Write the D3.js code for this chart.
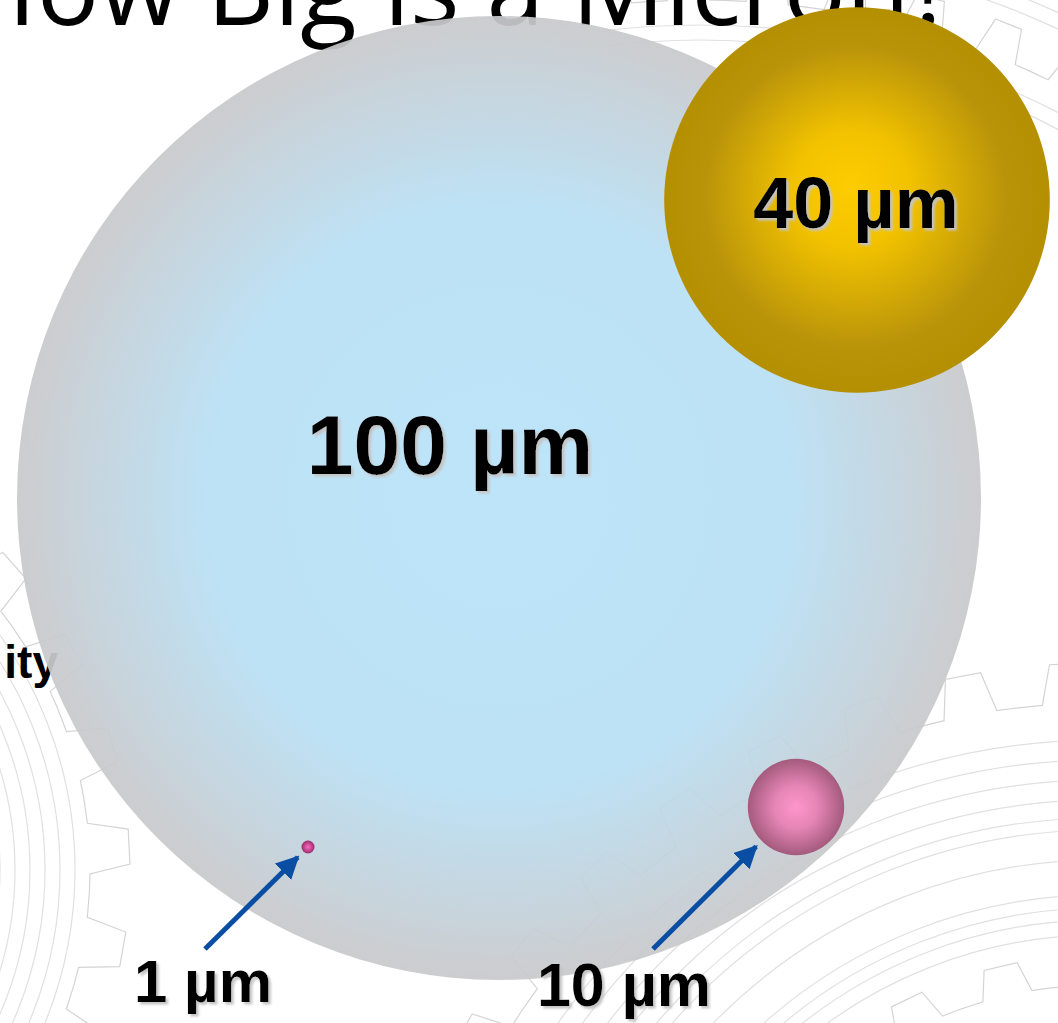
<!DOCTYPE html>
<html>
<head>
<meta charset="utf-8">
<script src="https://cdn.jsdelivr.net/npm/d3@7"></script>
<style>
  html, body { margin: 0; padding: 0; background: #ffffff; overflow: hidden; }
  svg { display: block; }
</style>
</head>
<body>
<svg id="chart" width="1058" height="1023"></svg>
<script>
// ---------------- DATA ----------------
const titleText = "How Big is a Micron?";
const sideText = "ity";
const objects = ["human hair", "dust particle", "cell", "bacterium"];
const sizesMicron = [100, 40, 10, 1];
const sizeLabels = ["100 µm", "40 µm", "10 µm", "1 µm"];

// ---------------- LAYOUT ----------------
const W = 1058, H = 1023;
const layout = {
  "human hair":    { cx: 499, cy: 498, lx: 450, ly: 474, fs: 84 },
  "dust particle": { cx: 857, cy: 200, lx: 856, ly: 228, fs: 72 },
  "cell":          { cx: 796, cy: 807, lx: 624, ly: 1006, fs: 61, ax: 653, ay: 949 },
  "bacterium":     { cx: 308, cy: 847, lx: 203, ly: 1002, fs: 60, ax: 205, ay: 949 }
};
const fills = {
  "human hair":    [["0%", "#b8e2f8"], ["60%", "#b8e0f5"], ["100%", "#c9c9cb"]],
  "dust particle": [["0%", "#fdcc00"], ["30%", "#f2c200"], ["78%", "#b9940a"], ["100%", "#b48f00"]],
  "cell":          [["0%", "#ff96cc"], ["45%", "#e585b5"], ["100%", "#a45a7d"]],
  "bacterium":     [["0%", "#ff66c4"], ["100%", "#9a2d6a"]]
};

const svg = d3.select("#chart");
const defs = svg.append("defs");

// radius scale (diameter in µm -> pixels)
const r = d3.scaleLinear().domain([0, 100]).range([0, 482]);

// ---------------- BACKGROUND GEARS ----------------
function gearPath(cx, cy, rOut, rIn, n, phase) {
  const pts = [];
  const step = 2 * Math.PI / n;
  for (let i = 0; i < n; i++) {
    const a = phase + i * step;
    [[rIn, 0], [rIn, 0.28], [rOut, 0.38], [rOut, 0.72], [rIn, 0.82]].forEach(([rr, f]) => {
      pts.push([cx + rr * Math.cos(a + f * step), cy + rr * Math.sin(a + f * step)]);
    });
  }
  return d3.line()(pts) + "Z";
}
defs.append("clipPath").attr("id", "clipTR")
  .append("rect").attr("x", 600).attr("y", 0).attr("width", 458).attr("height", 320);

const gears = [
  { cx: -330, cy: 870, rOut: 460, rIn: 420, n: 28, phase: 0.05, rings: [330, 345, 360, 375, 390, 405] },
  { cx: 1100, cy: 1400, rOut: 737, rIn: 697, n: 44, phase: 0.02, rings: [465, 480, 492, 505, 540, 570, 582, 600, 620, 640, 660] },
  { cx: 1100, cy: 1400, rOut: 445, rIn: 415, n: 28, phase: 0.1, rings: [] },
  { cx: 700, cy: 800, rOut: 835, rIn: 800, n: 64, phase: 0.03, rings: [760, 775, 850, 865, 880, 900, 915], clip: "clipTR" }
];
const bg = svg.append("g").attr("fill", "none").attr("stroke", "#d4d4d4").attr("stroke-width", 1.2);
gears.forEach(g => {
  const gg = bg.append("g");
  if (g.clip) gg.attr("clip-path", `url(#${g.clip})`);
  gg.append("path").attr("d", gearPath(g.cx, g.cy, g.rOut, g.rIn, g.n, g.phase));
  g.rings.forEach(rr => gg.append("circle").attr("cx", g.cx).attr("cy", g.cy).attr("r", rr).attr("stroke", "#e0e0e0"));
});

// ---------------- TITLE ----------------
svg.append("text")
  .attr("x", -40).attr("y", 25)
  .attr("font-family", "'Open Sans', sans-serif")
  .attr("font-weight", 400)
  .attr("font-size", 104)
  .attr("fill", "#000")
  .text(titleText);

svg.append("text")
  .attr("x", 58).attr("y", 678)
  .attr("text-anchor", "end")
  .attr("font-family", "'Liberation Sans', Arial, sans-serif")
  .attr("font-weight", "bold")
  .attr("font-size", 46)
  .attr("fill", "#000")
  .text(sideText);

// ---------------- GRADIENTS ----------------
objects.forEach((o, i) => {
  const grad = defs.append("radialGradient").attr("id", "g" + i)
    .attr("cx", "50%").attr("cy", "50%").attr("r", "50%")
    .attr("fx", o === "dust particle" ? "48%" : "50%")
    .attr("fy", o === "dust particle" ? "46%" : "50%");
  fills[o].forEach(([off, col]) => grad.append("stop").attr("offset", off).attr("stop-color", col));
});

const shadow = defs.append("filter").attr("id", "tshadow")
  .attr("x", "-10%").attr("y", "-10%").attr("width", "130%").attr("height", "130%");
shadow.append("feDropShadow").attr("dx", 2.5).attr("dy", 2.5).attr("stdDeviation", 1.2)
  .attr("flood-color", "#c4c4c4").attr("flood-opacity", 1);

// ---------------- CIRCLES ----------------
const circles = svg.append("g");
objects.forEach((o, i) => {
  circles.append("circle")
    .attr("cx", layout[o].cx).attr("cy", layout[o].cy)
    .attr("r", Math.max(r(sizesMicron[i]), 6.5))
    .attr("fill", `url(#g${i})`)
    .attr("fill-opacity", o === "human hair" ? 0.93 : 1);
});

// ---------------- ARROWS ----------------
defs.append("marker").attr("id", "arrowhead")
  .attr("viewBox", "0 0 10 10").attr("refX", 9).attr("refY", 5)
  .attr("markerWidth", 4.6).attr("markerHeight", 4.6).attr("orient", "auto")
  .append("path").attr("d", "M0,0 L10,5 L0,10 Z").attr("fill", "#0a4ea4");

const arrows = svg.append("g");
objects.forEach((o, i) => {
  const L = layout[o];
  if (L.ax === undefined) return;
  const rad = Math.max(r(sizesMicron[i]), 6.5);
  const dx = L.cx - L.ax, dy = L.cy - L.ay;
  const len = Math.hypot(dx, dy);
  const gap = rad + 8;
  arrows.append("line")
    .attr("x1", L.ax).attr("y1", L.ay)
    .attr("x2", L.cx - dx / len * gap).attr("y2", L.cy - dy / len * gap)
    .attr("stroke", "#0a4ea4").attr("stroke-width", 5)
    .attr("marker-end", "url(#arrowhead)");
});

// ---------------- LABELS ----------------
const labels = svg.append("g")
  .attr("font-family", "'Liberation Sans', Arial, sans-serif")
  .attr("font-weight", "bold")
  .attr("fill", "#000")
  .attr("filter", "url(#tshadow)");
objects.forEach((o, i) => {
  const L = layout[o];
  labels.append("text")
    .attr("x", L.lx).attr("y", L.ly)
    .attr("text-anchor", "middle")
    .attr("font-size", L.fs)
    .text(sizeLabels[i]);
});
</script>
</body>
</html>
